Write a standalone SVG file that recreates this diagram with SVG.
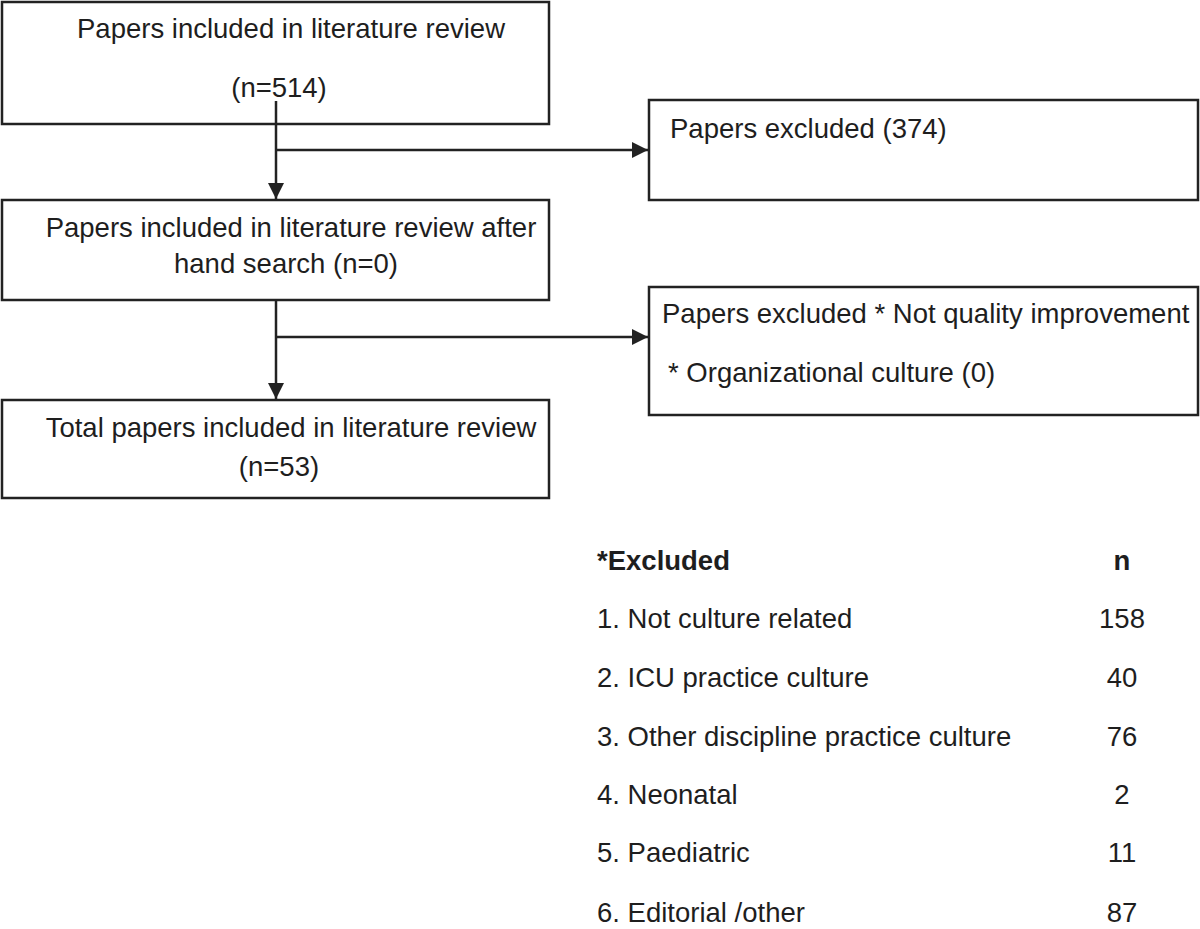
<svg xmlns="http://www.w3.org/2000/svg" width="1200" height="929" viewBox="0 0 1200 929">
<style>
.box{fill:#fff;stroke:#222;stroke-width:2.5}
.t{font-family:"Liberation Sans",Arial,sans-serif;font-size:27.5px;fill:#1e1e1e}
.c{text-anchor:middle}
.b{font-weight:bold}
.ln{fill:none;stroke:#222;stroke-width:2.5}
</style>
<defs>
<marker id="ah" markerWidth="16" markerHeight="16" viewBox="0 0 16 16" refX="16" refY="8" orient="auto" markerUnits="userSpaceOnUse">
<path d="M0,0 L16,8 L0,16 Z" fill="#222"/>
</marker>
</defs>
<rect width="1200" height="929" fill="#fff"/>
<g id="n1">
<rect class="box" x="2" y="2" width="547" height="122"/>
<text class="t c" x="291" y="38">Papers included in literature review</text>
<text class="t c" x="279" y="97">(n=514)</text>
</g>
<g id="n2">
<rect class="box" x="649" y="100" width="549" height="100"/>
<text class="t" x="670" y="138">Papers excluded (374)</text>
</g>
<g id="n3">
<rect class="box" x="2" y="200" width="547" height="100"/>
<text class="t c" x="291" y="237">Papers included in literature review after</text>
<text class="t c" x="286" y="273">hand search (n=0)</text>
</g>
<g id="n4">
<rect class="box" x="649" y="287" width="549" height="128"/>
<text class="t" x="662" y="323">Papers excluded * Not quality improvement</text>
<text class="t" x="668" y="382">* Organizational culture (0)</text>
</g>
<g id="n5">
<rect class="box" x="2" y="400" width="547" height="98"/>
<text class="t c" x="291" y="437">Total papers included in literature review</text>
<text class="t c" x="279" y="476">(n=53)</text>
</g>
<g id="connectors">
<line class="ln" x1="276" y1="101" x2="276" y2="199" marker-end="url(#ah)"/>
<line class="ln" x1="276" y1="150" x2="648" y2="150" marker-end="url(#ah)"/>
<line class="ln" x1="276" y1="300" x2="276" y2="399" marker-end="url(#ah)"/>
<line class="ln" x1="276" y1="337" x2="648" y2="337" marker-end="url(#ah)"/>
</g>
<g id="table">
<text class="t b" x="597" y="570">*Excluded</text>
<text class="t b c" x="1122" y="570">n</text>
<text class="t" x="597" y="628">1. Not culture related</text>
<text class="t c" x="1122" y="628">158</text>
<text class="t" x="597" y="687">2. ICU practice culture</text>
<text class="t c" x="1122" y="687">40</text>
<text class="t" x="597" y="746">3. Other discipline practice culture</text>
<text class="t c" x="1122" y="746">76</text>
<text class="t" x="597" y="804">4. Neonatal</text>
<text class="t c" x="1122" y="804">2</text>
<text class="t" x="597" y="862">5. Paediatric</text>
<text class="t c" x="1122" y="862">11</text>
<text class="t" x="597" y="922">6. Editorial /other</text>
<text class="t c" x="1122" y="922">87</text>
</g>
</svg>
